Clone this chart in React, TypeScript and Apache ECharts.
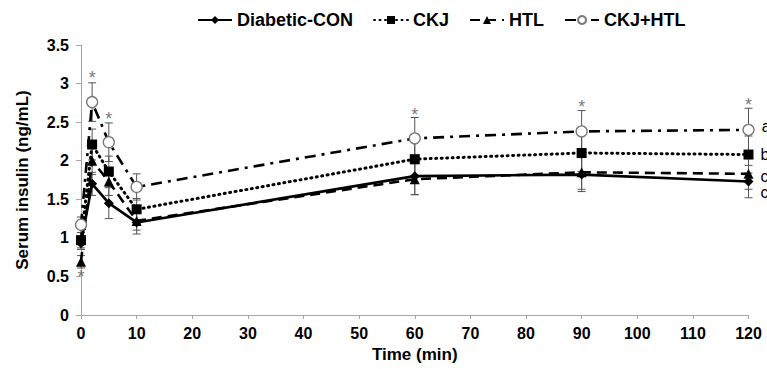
import React, { useEffect, useRef } from 'react';
import * as echarts from 'echarts';

const times = [0, 2, 5, 10, 60, 90, 120];
const seriesNames = ['Diabetic-CON', 'CKJ', 'HTL', 'CKJ+HTL'];
const conValues = [0.93, 1.70, 1.45, 1.20, 1.80, 1.82, 1.73];
const ckjValues = [0.97, 2.21, 1.86, 1.37, 2.02, 2.10, 2.08];
const htlValues = [0.69, 2.00, 1.73, 1.22, 1.76, 1.85, 1.83];
const comboValues = [1.17, 2.76, 2.24, 1.66, 2.29, 2.38, 2.40];
const conErrors = [0.08, 0.15, 0.20, 0.15, 0.24, 0.22, 0.21];
const ckjErrors = [0.10, 0.20, 0.20, 0.14, 0.22, 0.24, 0.24];
const htlErrors = [0.08, 0.18, 0.18, 0.12, 0.20, 0.22, 0.20];
const comboErrors = [0.10, 0.25, 0.25, 0.17, 0.27, 0.27, 0.28];
const groupLetters = ['c', 'b', 'c', 'a'];
const sigTimes = [0, 2, 5, 60, 90, 120];
const sigLevels = [0.54, 3.13, 2.59, 2.65, 2.75, 2.78];
const yMin = 0;
const yMax = 3.5;
const yInterval = 0.5;
const xMin = 0;
const xMax = 120;
const xInterval = 10;

const FONT = '"Liberation Sans", Arial, sans-serif';

export default function App() {
  const ref = useRef<HTMLDivElement>(null);
  useEffect(() => {
    if (!ref.current) return;
    const chart = echarts.init(ref.current, null, { renderer: 'svg' });
    const values = [conValues, ckjValues, htlValues, comboValues];
    const errors = [conErrors, ckjErrors, htlErrors, comboErrors];
    const letterOffsets = [11, 0, 3, -3];
    const styles: any[] = [
      { symbol: 'diamond', symbolSize: 10, line: { type: 'solid', width: 2.6 }, item: { color: '#000' } },
      { symbol: 'rect', symbolSize: 10, line: { type: [1, 4.5], width: 3, cap: 'round' }, item: { color: '#000' } },
      { symbol: 'triangle', symbolSize: 10, line: { type: [10, 6], width: 2.6 }, item: { color: '#000' } },
      { symbol: 'circle', symbolSize: 11, line: { type: [11, 6, 3, 6], width: 2.6 }, item: { color: '#fff', borderColor: '#777', borderWidth: 1.3 } },
    ];
    const errSeries = values.map((vals, si) => ({
      type: 'custom',
      name: 'err' + si,
      data: times.map((t, i) => [t, vals[i], errors[si][i]]),
      encode: { x: 0, y: 1 },
      z: 1,
      silent: true,
      renderItem: (params: any, api: any) => {
        const x = api.value(0);
        const y = api.value(1);
        const e = api.value(2);
        const top = api.coord([x, y + e]);
        const bot = api.coord([x, y - e]);
        const w = 4;
        const st = { stroke: '#555', lineWidth: 1 };
        return {
          type: 'group',
          children: [
            { type: 'line', shape: { x1: top[0], y1: top[1], x2: bot[0], y2: bot[1] }, style: st },
            { type: 'line', shape: { x1: top[0] - w, y1: top[1], x2: top[0] + w, y2: top[1] }, style: st },
            { type: 'line', shape: { x1: bot[0] - w, y1: bot[1], x2: bot[0] + w, y2: bot[1] }, style: st },
          ],
        };
      },
    }));
    const lineSeries = values.map((vals, si) => ({
      type: 'line',
      name: seriesNames[si],
      z: 3 + si,
      data: times.map((t, i) => {
        const d: any = { value: [t, vals[i]] };
        if (i === times.length - 1) {
          d.label = {
            show: true,
            position: 'right',
            distance: 7,
            offset: [0, letterOffsets[si]],
            formatter: groupLetters[si],
            color: '#000',
            fontSize: 16,
            fontFamily: FONT,
          };
        }
        return d;
      }),
      symbol: styles[si].symbol,
      symbolSize: styles[si].symbolSize,
      showSymbol: true,
      lineStyle: { color: '#000', type: styles[si].line.type, width: styles[si].line.width, cap: styles[si].line.cap || 'butt' },
      itemStyle: { ...styles[si].item, opacity: 1 },
      emphasis: { disabled: true },
    }));
    const sigSeries = {
      type: 'scatter',
      name: 'sig',
      symbol: 'circle',
      symbolSize: 1,
      itemStyle: { color: 'rgba(0,0,0,0)' },
      data: sigTimes.map((t, i) => [t, sigLevels[i]]),
      label: {
        show: true,
        position: 'inside',
        formatter: '*',
        color: '#555',
        fontSize: 18,
        fontFamily: FONT,
        offset: [0, 4],
      },
      silent: true,
      z: 10,
    };
    chart.setOption({
      animation: false,
      backgroundColor: '#fff',
      grid: { left: 81, right: 18.5, top: 45, bottom: 54, containLabel: false },
      legend: {
        data: seriesNames,
        left: 192,
        top: 6,
        itemWidth: 34,
        itemHeight: 10,
        itemGap: 20,
        textStyle: { fontSize: 18, fontWeight: 'bold', fontFamily: FONT, color: '#000' },
      },
      xAxis: {
        type: 'value',
        min: xMin,
        max: xMax,
        interval: xInterval,
        name: 'Time (min)',
        nameLocation: 'middle',
        nameGap: 30,
        nameTextStyle: { fontSize: 17, fontWeight: 'bold', fontFamily: FONT, color: '#000' },
        axisLine: { lineStyle: { color: '#a6a6a6', width: 1 } },
        axisTick: { show: true, length: 4, lineStyle: { color: '#a6a6a6' } },
        axisLabel: { fontSize: 16, fontWeight: 'bold', fontFamily: FONT, color: '#000', margin: 10 },
        splitLine: { show: false },
      },
      yAxis: {
        type: 'value',
        min: yMin,
        max: yMax,
        interval: yInterval,
        name: 'Serum insulin (ng/mL)',
        nameLocation: 'middle',
        nameGap: 50,
        nameTextStyle: { fontSize: 17, fontWeight: 'bold', fontFamily: FONT, color: '#000' },
        axisLine: { show: true, lineStyle: { color: '#a6a6a6', width: 1 } },
        axisTick: { show: true, length: 5, lineStyle: { color: '#a6a6a6' } },
        axisLabel: { fontSize: 16, fontWeight: 'bold', fontFamily: FONT, color: '#000', margin: 12 },
        splitLine: { show: false },
      },
      series: [...errSeries, ...lineSeries, sigSeries],
    });
    return () => chart.dispose();
  }, []);
  return <div ref={ref} style={{ position: 'fixed', left: 0, top: 0, width: 767, height: 369 }} />;
}
